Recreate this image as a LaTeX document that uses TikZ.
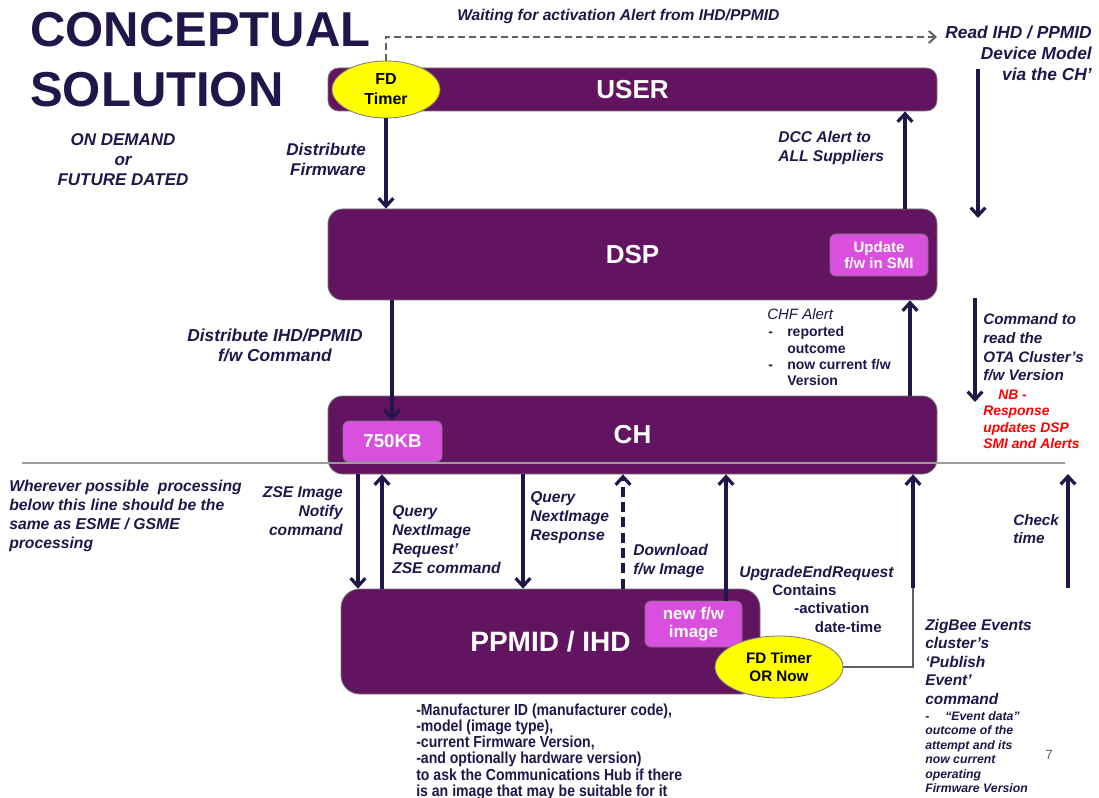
\documentclass[tikz,border=0pt]{standalone}
\usepackage{fontspec}
\setmainfont{Liberation Sans}
\newfontfamily\narrowfont{Liberation Sans}[FakeStretch=0.88]
\usetikzlibrary{arrows.meta,shapes.geometric,fit}

\definecolor{navy}{RGB}{33,21,74}
\definecolor{boxpurple}{RGB}{99,20,97}
\definecolor{boxpink}{RGB}{218,80,222}
\definecolor{timeryellow}{RGB}{255,255,0}
\definecolor{edgegray}{RGB}{120,120,120}
\definecolor{linkgray}{RGB}{96,96,96}
\definecolor{rulegray}{RGB}{155,155,155}
\definecolor{alertred}{RGB}{255,0,0}

% stacked lines whose reference point is the baseline of the first line
\newcommand\stackL[1]{\vtop{\halign{##\hfil\cr#1\crcr}}}
\newcommand\stackR[1]{\vtop{\halign{\hfil##\cr#1\crcr}}}
\newcommand\stackC[1]{\vtop{\halign{\hfil##\hfil\cr#1\crcr}}}

\tikzset{
  box/.style={draw=edgegray, line width=0.6pt, fill=boxpurple, inner sep=0pt},
  boxtitle/.style={inner sep=0pt, text=white, font=\bfseries\fontsize{19.5}{22}\selectfont},
  subbox/.style={draw=edgegray, line width=0.6pt, fill=boxpink, rounded corners=4.5pt, inner sep=0pt},
  subtitle/.style={inner sep=0pt, text=white, align=center},
  timer/.style={ellipse, draw=edgegray, line width=0.6pt, fill=timeryellow,
    inner sep=0pt, text=black, align=center},
  flow/.style={draw=navy, line width=2.4pt, -{Straight Barb[length=6pt,width=11pt]}},
  flowdash/.style={flow, dash pattern=on 7.5pt off 4pt},
  greylink/.style={draw=linkgray, line width=2pt},
  waitlink/.style={draw=linkgray, line width=1.5pt, dash pattern=on 5pt off 3pt,
    -{Straight Barb[length=5pt,width=9pt]}},
  txt/.style={inner sep=0pt, text=navy},
  lbl/.style={txt, font=\bfseries\itshape\fontsize{11.7}{14.25}\selectfont},
  lblbig/.style={txt, font=\bfseries\itshape\fontsize{12.75}{15}\selectfont},
}

\begin{document}
\begin{tikzpicture}[x=0.75pt,y=-0.75pt]
\useasboundingbox (0,0) rectangle (1099,798);
\fill[white] (0,0) rectangle (1099,798);

% heading
\node[txt, anchor=base west, font=\bfseries\fontsize{36.75}{45}\selectfont] (title) at (30,47)
  {\stackL{CONCEPTUAL\cr SOLUTION}};
\node[lblbig, anchor=base] (ondemand) at (123,146) {\stackC{ON DEMAND\cr or\cr FUTURE DATED}};

% main boxes
\node[box, rounded corners=8pt, fit={(328,68) (937,111)}] (user) {};
\node[box, rounded corners=11pt, fit={(328,209) (937,300)}] (dsp) {};
\node[box, rounded corners=11pt, fit={(328,396) (937,474)}] (ch) {};
\node[box, rounded corners=14pt, fit={(341,589) (760,694)}] (ppmid) {};
\node[boxtitle] (usertitle) at (user.center) {USER};
\node[boxtitle] (dsptitle) at (dsp.center) {DSP};
\node[boxtitle] (chtitle) at (ch.center) {CH};
\node[boxtitle, font=\bfseries\fontsize{21}{24}\selectfont] (ppmidtitle) at (ppmid.center) {PPMID / IHD};

% inner boxes
\node[subbox, fit={(830,234) (928,276)}] (smi) {};
\node[subbox, fit={(343,421) (442,462)}] (kb) {};
\node[subbox, fit={(645,601) (742,647)}] (newfw) {};
\node[subtitle, font=\bfseries\fontsize{11.25}{12.2}\selectfont] (smititle) at (smi.center) {Update\\f/w in SMI};
\node[subtitle, font=\bfseries\fontsize{14}{16}\selectfont] (kbtitle) at (kb.center) {750KB};
\node[subtitle, font=\bfseries\fontsize{12.75}{14}\selectfont] (newfwtitle) at (newfw.center) {new f/w\\image};

% timers
\node[timer, minimum width=81pt, minimum height=42.75pt,
      font=\bfseries\fontsize{12}{15}\selectfont] (fdtop) at (386,89.5) {FD\\Timer};
\node[timer, minimum width=96pt, minimum height=46.5pt,
      font=\bfseries\fontsize{11.4}{13.5}\selectfont] (fdnow) at (779,667) {FD Timer\\OR Now};

% separator
\draw[draw=rulegray, line width=1.1pt] (22,463) -- (1065,463);

% x positions of the vertical flows
\coordinate (xdcc) at (905,0);
\coordinate (xdist) at (392,0);
\coordinate (xchf) at (910,0);
\coordinate (xzse) at (358,0);
\coordinate (xqreq) at (382,0);
\coordinate (xqresp) at (523,0);
\coordinate (xdl) at (623,0);
\coordinate (xend) at (726,0);
\coordinate (xzig) at (913,0);

% free ends
\coordinate (waittip) at (937,37);
\coordinate (readtop) at (978,69);
\coordinate (readbot) at (978,218);
\coordinate (cmdtop) at (975,298);
\coordinate (cmdbot) at (975,402);
\coordinate (zigmid) at (913,588);
\coordinate (checkbot) at (1068,588);
\coordinate (checktop) at (1068,474);

% connectors
\draw[waitlink] (fdtop.north) -- (fdtop.north |- waittip) -- (waittip);
\draw[flow] (fdtop.south) -- (fdtop.south |- dsp.north);
\draw[flow] (dsp.north -| xdcc) -- (user.south -| xdcc);
\draw[flow] (readtop) -- (readbot);
\draw[flow] (dsp.south -| xdist) -- (kb.north -| xdist);
\draw[flow] (ch.north -| xchf) -- (dsp.south -| xchf);
\draw[flow] (cmdtop) -- (cmdbot);
\draw[flow] (ch.south -| xzse) -- (ppmid.north -| xzse);
\draw[flow] (ppmid.north -| xqreq) -- (ch.south -| xqreq);
\draw[flow] (ch.south -| xqresp) -- (ppmid.north -| xqresp);
\draw[flowdash] (ppmid.north -| xdl) -- (ch.south -| xdl);
\draw[flow] (newfw.north -| xend) -- (ch.south -| xend);
\draw[greylink] (fdnow.east) -- (fdnow.east -| xzig) -- (zigmid);
\draw[flow] (zigmid) -- (ch.south -| zigmid);
\draw[flow] (checkbot) -- (checktop);

% labels
\node[lbl, anchor=base west] (waiting) at (457,21) {Waiting for activation Alert from IHD/PPMID};
\node[txt, anchor=base east, font=\bfseries\itshape\fontsize{13}{15.75}\selectfont] (readihd) at (1092,39)
  {\stackR{Read IHD / PPMID\cr Device Model\cr via the CH’}};
\node[lblbig, anchor=base east] (distfw) at (366,156) {\stackR{Distribute\cr Firmware}};
\node[lbl, anchor=base west] (dcc) at (778,143) {\stackL{DCC Alert to\cr ALL Suppliers}};
\node[txt, anchor=base, font=\bfseries\itshape\fontsize{13}{15}\selectfont] (distihd) at (275,342)
  {\stackC{Distribute IHD/PPMID\cr f/w Command}};

\node[txt, anchor=base west, font=\itshape\fontsize{11.25}{13}\selectfont] (chf) at (767,320) {CHF Alert};
\node[txt, anchor=base west, font=\bfseries\fontsize{10.5}{12.2}\selectfont] (chfdash) at (768,337)
  {\stackL{-\cr \cr -}};
\node[txt, anchor=base west, font=\bfseries\fontsize{10.5}{12.2}\selectfont] (chflist) at (787,337)
  {\stackL{reported\cr outcome\cr now current f/w\cr Version}};

\node[txt, anchor=base west, font=\bfseries\itshape\fontsize{11.4}{14}\selectfont] (cmd) at (983,325)
  {\stackL{Command to\cr read the\cr OTA Cluster’s\cr f/w Version}};
\node[inner sep=0pt, text=alertred, anchor=base west, font=\bfseries\itshape\fontsize{10.4}{12.4}\selectfont]
  (nb) at (983,399) {\stackL{\hskip11.25pt NB -\cr Response\cr updates DSP\cr SMI and Alerts}};

\node[txt, anchor=base west, font=\bfseries\itshape\fontsize{11.8}{14.25}\selectfont] (below) at (9,491)
  {\stackL{Wherever possible~ processing\cr below this line should be the\cr same as ESME / GSME\cr processing}};

\node[lbl, anchor=base east] (zse) at (343,497) {\stackR{ZSE Image\cr Notify\cr command}};
\node[lbl, anchor=base west] (qreq) at (392,516) {\stackL{Query\cr NextImage\cr Request’\cr ZSE command}};
\node[lbl, anchor=base west] (qresp) at (530,502) {\stackL{Query\cr NextImage\cr Response}};
\node[lbl, anchor=base west] (dl) at (633,555) {\stackL{Download\cr f/w Image}};
\node[lbl, anchor=base west] (upgrade) at (739,577) {UpgradeEndRequest};
\node[txt, anchor=base west, font=\bfseries\fontsize{11.25}{14}\selectfont] (contains) at (772,595)
  {\stackL{Contains\cr \hskip16.5pt -activation\cr \hskip32pt date-time}};

\node[txt, anchor=base west, font=\bfseries\itshape\fontsize{11.4}{13.5}\selectfont] (check) at (1013,525)
  {\stackL{Check\cr time}};

\node[txt, anchor=base west, font=\bfseries\itshape\fontsize{11.6}{13.9}\selectfont] (zigbee) at (925,630)
  {\stackL{ZigBee Events\cr cluster’s\cr ‘Publish\cr Event’\cr command}};
\node[txt, anchor=base west, font=\bfseries\itshape\fontsize{9.2}{10.9}\selectfont] (zignote) at (925,720)
  {\stackL{-\hskip12pt “Event data”\cr outcome of the\cr attempt and its\cr now current\cr operating\cr Firmware Version}};

\node[txt, anchor=base west, font=\narrowfont\bfseries\fontsize{12}{12.2}\selectfont] (params) at (416,715)
  {\stackL{-Manufacturer ID (manufacturer code),\cr -model (image type),\cr -current Firmware Version,\cr
   -and optionally hardware version)\cr to ask the Communications Hub if there\cr is an image that may be suitable for it}};

\node[inner sep=0pt, text=linkgray, font=\fontsize{10}{12}\selectfont] (pageno) at (1049,755) {7};

\end{tikzpicture}
\end{document}
